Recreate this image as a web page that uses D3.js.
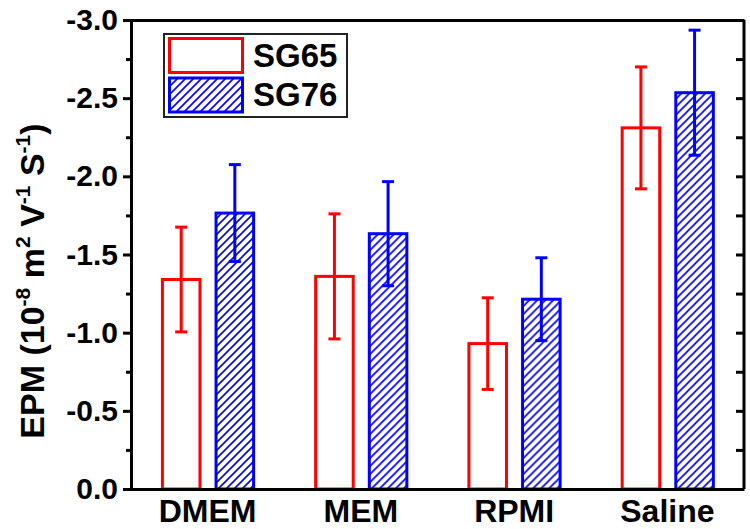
<!DOCTYPE html>
<html><head><meta charset="utf-8">
<script src="https://cdn.jsdelivr.net/npm/d3@7"></script>
<style>
html,body{margin:0;padding:0;background:#fff;}
svg{display:block;font-family:"Liberation Sans",Arial,sans-serif;}
</style></head>
<body>
<svg id="chart" width="750" height="529"></svg>
<script>
const categories = ["DMEM", "MEM", "RPMI", "Saline"];
const seriesNames = ["SG65", "SG76"];
const sg65 = [-1.34, -1.36, -0.93, -2.31];
const sg65Err = [0.335, 0.40, 0.293, 0.39];
const sg76 = [-1.765, -1.633, -1.214, -2.535];
const sg76Err = [0.31, 0.333, 0.265, 0.40];
const yMajorTicks = [0, -0.5, -1.0, -1.5, -2.0, -2.5, -3.0];
const yTickLabels = ["0.0", "-0.5", "-1.0", "-1.5", "-2.0", "-2.5", "-3.0"];
const yMinorTicks = [-0.25, -0.75, -1.25, -1.75, -2.25, -2.75];

(function () {
const svg = d3.select("#chart");
const L = 131, R = 744, T = 20, B = 489;
const y = d3.scaleLinear().domain([0, -3]).range([B, T]);
const x = d3.scaleBand().domain(categories).range([L, R]).padding(0);
const xs = d3.scaleBand().domain(seriesNames).range([x.bandwidth()*0.205, x.bandwidth()*0.8]).paddingInner(0.3);

const colors = {SG65: "#ff0000", SG76: "#0000ff"};

const defs = svg.append("defs");
const pat = defs.append("pattern").attr("id", "hatch").attr("patternUnits", "userSpaceOnUse")
  .attr("width", 8).attr("height", 8);
pat.append("path").attr("d", "M-2,2 L2,-2 M0,8 L8,0 M6,10 L10,6")
  .attr("stroke", "#0000ff").attr("stroke-width", 1.6);

const rows = categories.map((c, i) => ({cat: c, vals: [
  {s: "SG65", v: sg65[i], e: sg65Err[i]},
  {s: "SG76", v: sg76[i], e: sg76Err[i]}
]}));

const g = svg.append("g");
const grp = g.selectAll("g.grp").data(rows).join("g").attr("transform", d => `translate(${x(d.cat)},0)`);
grp.selectAll("rect").data(d => d.vals).join("rect")
  .attr("x", d => xs(d.s)).attr("width", xs.bandwidth())
  .attr("y", d => y(d.v)).attr("height", d => B - y(d.v))
  .attr("fill", d => d.s === "SG76" ? "url(#hatch)" : "#fff")
  .attr("stroke", d => colors[d.s]).attr("stroke-width", 3);

grp.selectAll("g.err").data(d => d.vals).join("g").attr("class", "err").each(function(d) {
  const cx = xs(d.s) + xs.bandwidth()/2;
  const gg = d3.select(this).attr("stroke", colors[d.s]).attr("stroke-width", 3);
  gg.append("line").attr("x1", cx).attr("x2", cx).attr("y1", y(d.v - d.e)).attr("y2", y(d.v + d.e));
  gg.append("line").attr("x1", cx-6).attr("x2", cx+6).attr("y1", y(d.v - d.e)).attr("y2", y(d.v - d.e));
  gg.append("line").attr("x1", cx-6).attr("x2", cx+6).attr("y1", y(d.v + d.e)).attr("y2", y(d.v + d.e));
});

const fmt = d => yTickLabels[yMajorTicks.indexOf(d)];
const leftAx = svg.append("g").attr("transform", `translate(${L},0)`)
  .call(d3.axisLeft(y).tickValues(yMajorTicks).tickFormat(fmt).tickSize(8).tickPadding(5));
leftAx.selectAll("text").attr("font-size", 30).attr("font-weight", "bold").attr("fill", "#000").attr("font-family", "Liberation Sans, Arial, sans-serif");
const leftMinor = svg.append("g").attr("transform", `translate(${L},0)`)
  .call(d3.axisLeft(y).tickValues(yMinorTicks).tickFormat("").tickSize(5));
const rightAx = svg.append("g").attr("transform", `translate(${R},0)`)
  .call(d3.axisRight(y).tickValues(yMajorTicks.concat(yMinorTicks)).tickFormat("").tickSize(-8));
const bottomAx = svg.append("g").attr("transform", `translate(0,${B})`)
  .call(d3.axisBottom(x).tickSize(0).tickPadding(10));
bottomAx.selectAll("text").attr("font-size", 32).attr("font-weight", "bold").attr("fill", "#000").attr("font-family", "Liberation Sans, Arial, sans-serif");
const topAx = svg.append("g").attr("transform", `translate(0,${T})`)
  .call(d3.axisTop(x).tickSize(0).tickFormat(""));
[leftAx, leftMinor, rightAx, bottomAx, topAx].forEach(a => {
  a.selectAll("path.domain").attr("stroke", "#000").attr("stroke-width", 3);
  a.selectAll(".tick line").attr("stroke", "#000").attr("stroke-width", 3);
});
leftMinor.select("path.domain").remove();
rightAx.selectAll("path.domain").attr("d", `M0,${T}V${B}`);

const title = svg.append("text").attr("transform", `translate(44,281) rotate(-90)`)
  .attr("text-anchor", "middle").attr("font-size", 34).attr("font-weight", "bold").attr("fill", "#000");
title.append("tspan").text("EPM (10");
title.append("tspan").text("-8").attr("font-size", 21).attr("dy", -14);
title.append("tspan").text(" m").attr("dy", 14);
title.append("tspan").text("2").attr("font-size", 21).attr("dy", -14);
title.append("tspan").text(" V").attr("dy", 14);
title.append("tspan").text("-1").attr("font-size", 21).attr("dy", -14);
title.append("tspan").text(" S").attr("dy", 14);
title.append("tspan").text("-1").attr("font-size", 21).attr("dy", -14);
title.append("tspan").text(")").attr("dy", 14);

const lg = svg.append("g");
lg.append("rect").attr("x", 164).attr("y", 34).attr("width", 183).attr("height", 83)
  .attr("fill", "#fff").attr("stroke", "#222").attr("stroke-width", 2);
seriesNames.forEach((s, i) => {
  lg.append("rect").attr("x", 169.5).attr("y", 38.5 + i*39.5).attr("width", 73).attr("height", 34)
    .attr("fill", s === "SG76" ? "url(#hatch)" : "#fff").attr("stroke", colors[s]).attr("stroke-width", 3);
  lg.append("text").attr("x", 253).attr("y", 67 + i*39).text(s)
    .attr("font-size", 33).attr("font-weight", "bold").attr("fill", "#000");
});
})();
</script>
</body></html>
